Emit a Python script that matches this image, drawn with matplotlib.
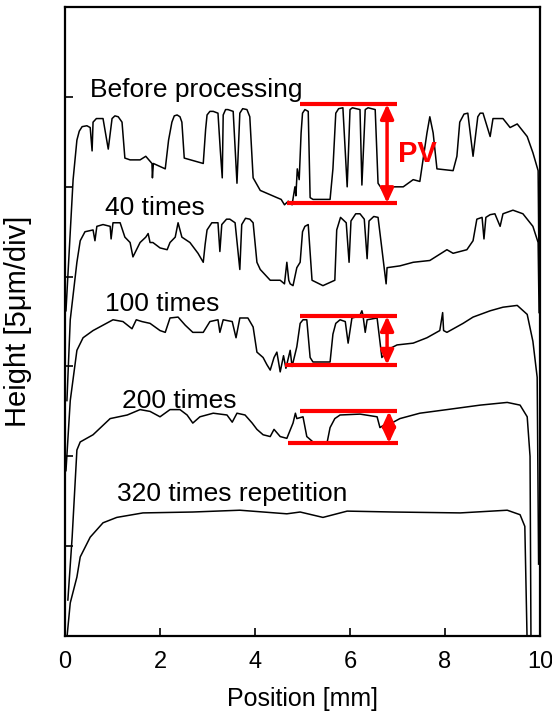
import matplotlib
matplotlib.use("Agg")
import matplotlib.pyplot as plt

plt.rcParams['font.family'] = ['Liberation Sans', 'DejaVu Sans']

# surface profiles, position [mm] / height [um] (offset per curve)
before_x = [0.02, 0.17, 0.25, 0.30, 0.36, 0.46, 0.53, 0.57, 0.59, 0.66, 0.80, 0.91, 0.99, 1.05, 1.12, 1.20, 1.26, 1.37, 1.58, 1.70, 1.83,
            1.84, 1.86, 2.11, 2.18, 2.25, 2.30, 2.36, 2.42, 2.46, 2.51, 2.91, 2.96, 2.99, 3.05, 3.12, 3.22, 3.27, 3.31, 3.33, 3.38,
            3.43, 3.54, 3.62, 3.68, 3.74, 3.83, 3.89, 3.96, 4.11, 4.46, 4.55, 4.62, 4.70, 4.78, 4.84, 4.86, 4.89, 4.93, 4.97, 5.00,
            5.05, 5.12, 5.16, 5.22, 5.58, 5.64, 5.70, 5.76, 5.85, 5.94, 6.00, 6.05, 6.21, 6.25, 6.32, 6.38, 6.53, 6.59, 6.69, 6.91,
            7.12, 7.33, 7.47, 7.62, 7.68, 7.75, 7.83, 8.17, 8.25, 8.31, 8.40, 8.48, 8.59, 8.69, 8.74, 8.80, 8.95, 9.01, 9.22, 9.37,
            9.52, 9.73, 9.85, 9.96, 9.98]
before_y = [18.1, 25.4, 27.6, 28.1, 28.35, 28.4, 28.3, 27.0, 28.6, 28.8, 28.8, 27.1, 28.8, 28.95, 28.9, 28.6, 26.6, 26.5, 26.5, 26.7, 26.3,
            25.5, 26.3, 26.0, 27.6, 28.6, 28.95, 29.0, 28.9, 28.6, 26.6, 26.3, 28.2, 29.0, 29.2, 29.2, 29.1, 27.0, 25.5, 29.0, 29.3,
            29.3, 29.2, 25.2, 29.1, 29.35, 29.3, 28.9, 25.5, 24.8, 24.4, 24.3, 24.0, 24.2, 24.0, 25.0, 24.5, 26.0, 25.4, 28.0, 29.1,
            29.3, 29.2, 24.4, 24.3, 24.3, 26.0, 29.1, 29.35, 29.4, 25.0, 29.3, 29.4, 29.3, 25.1, 29.3, 29.4, 29.3, 25.2, 24.8, 25.0,
            25.0, 25.4, 25.3, 28.0, 28.9, 28.0, 26.0, 25.9, 26.7, 28.6, 29.05, 29.1, 26.7, 28.9, 29.1, 29.1, 27.8, 28.8, 28.8, 28.3,
            28.5, 27.8, 26.9, 25.9, 20.0]

t40_x = [0.04, 0.11, 0.25, 0.32, 0.42, 0.59, 0.63, 0.67, 0.80, 0.95, 0.97, 1.01, 1.16, 1.26, 1.37, 1.43, 1.58, 1.70, 1.75, 1.79, 1.85,
         2.00, 2.15, 2.21, 2.32, 2.38, 2.46, 2.63, 2.80, 2.91, 2.95, 2.99, 3.09, 3.22, 3.26, 3.30, 3.40, 3.47, 3.58, 3.68, 3.72,
         3.80, 3.89, 3.96, 4.04, 4.11, 4.32, 4.53, 4.62, 4.67, 4.71, 4.74, 4.80, 4.88, 4.95, 5.00, 5.05, 5.12, 5.20, 5.43, 5.68,
         5.72, 5.80, 5.92, 5.98, 6.02, 6.12, 6.21, 6.30, 6.36, 6.40, 6.50, 6.59, 6.65, 6.76, 6.78, 7.05, 7.33, 7.68, 8.04, 8.17,
         8.46, 8.59, 8.67, 8.78, 8.82, 8.86, 8.95, 9.05, 9.16, 9.22, 9.43, 9.64, 9.85, 9.96, 9.98]
t40_y = [13.1, 17.6, 20.8, 22.0, 22.5, 22.6, 22.0, 22.8, 22.9, 22.8, 22.1, 23.0, 23.0, 22.2, 21.9, 21.1, 21.9, 22.2, 22.4, 21.9, 21.9,
         21.6, 21.5, 21.9, 22.2, 23.0, 22.2, 21.9, 21.3, 20.8, 21.8, 22.6, 23.0, 23.0, 21.4, 22.9, 23.2, 23.2, 23.0, 20.4, 22.9,
         23.25, 23.2, 23.0, 20.8, 20.4, 19.8, 19.8, 19.6, 20.8, 19.8, 19.6, 19.5, 20.5, 20.8, 22.5, 22.8, 22.9, 19.8, 19.5, 19.8,
         22.6, 23.3, 23.0, 20.8, 23.1, 23.5, 23.5, 23.2, 21.0, 23.1, 23.35, 23.3, 22.0, 19.6, 20.5, 20.6, 20.8, 20.9, 21.5, 21.3,
         21.5, 22.0, 23.2, 23.3, 22.1, 23.3, 23.45, 23.5, 22.8, 23.5, 23.7, 23.5, 22.8, 21.9, 18.0]

t100_x = [0.02, 0.11, 0.25, 0.38, 0.59, 1.01, 1.22, 1.41, 1.50, 1.62, 1.79, 2.00, 2.11, 2.21, 2.38, 2.53, 2.69, 2.91, 3.05, 3.22, 3.26,
          3.33, 3.52, 3.60, 3.68, 3.85, 3.96, 4.04, 4.17, 4.25, 4.32, 4.40, 4.46, 4.53, 4.60, 4.65, 4.74, 4.78, 4.88, 4.95, 5.01,
          5.09, 5.16, 5.22, 5.58, 5.64, 5.70, 5.79, 5.90, 5.96, 6.04, 6.20, 6.25, 6.27, 6.32, 6.36, 6.57, 6.67, 6.84, 6.99, 7.33,
          7.62, 7.89, 7.95, 7.97, 8.04, 8.38, 8.59, 8.95, 9.22, 9.52, 9.73, 9.85, 9.94, 9.97]
t100_y = [9.2, 13.1, 15.9, 16.6, 17.0, 17.6, 17.5, 17.1, 17.6, 17.5, 17.4, 17.0, 16.9, 17.7, 17.75, 17.3, 16.9, 16.9, 17.5, 17.6, 16.9,
          17.6, 17.5, 16.6, 17.7, 17.7, 17.2, 15.8, 15.5, 15.1, 14.8, 15.5, 15.8, 14.7, 15.6, 14.9, 15.9, 15.0, 16.1, 17.4, 17.6,
          17.6, 15.5, 15.25, 15.25, 16.8, 17.4, 17.6, 17.5, 16.3, 17.7, 17.8, 18.1, 17.9, 16.9, 17.6, 17.7, 15.5, 16.0, 16.2, 16.3,
          16.6, 17.0, 18.0, 17.0, 16.9, 17.4, 17.75, 18.1, 18.3, 18.4, 17.9, 16.4, 14.4, 4.0]

t200_x = [0.06, 0.15, 0.25, 0.32, 0.59, 0.95, 1.31, 1.58, 1.79, 2.00, 2.21, 2.42, 2.57, 2.69, 2.84, 3.12, 3.41, 3.52, 3.62, 3.79, 3.94,
          4.04, 4.17, 4.32, 4.40, 4.53, 4.67, 4.80, 4.85, 4.88, 5.01, 5.09, 5.22, 5.52, 5.58, 5.68, 5.79, 6.21, 6.57, 6.63, 6.78,
          6.91, 7.05, 7.47, 8.04, 8.74, 9.31, 9.58, 9.73, 9.79, 9.81]
t200_y = [2.0, 5.5, 10.35, 10.8, 11.2, 12.1, 12.3, 12.6, 12.5, 12.2, 12.6, 12.6, 12.3, 11.85, 12.2, 12.4, 12.3, 11.9, 12.4, 12.3, 11.85,
          11.5, 11.2, 11.1, 11.5, 11.1, 11.0, 11.85, 12.4, 12.1, 12.2, 11.1, 10.8, 10.8, 11.6, 12.1, 12.3, 12.35, 12.2, 11.6, 11.85,
          11.9, 12.1, 12.4, 12.6, 12.85, 13.0, 12.85, 12.2, 10.0, -0.5]

t320_x = [0.04, 0.11, 0.25, 0.32, 0.53, 0.80, 1.09, 1.64, 2.69, 3.68, 4.67, 4.95, 5.43, 5.94, 6.91, 8.32, 9.31, 9.58, 9.68, 9.73]
t320_y = [-0.1, 1.84, 3.28, 4.4, 5.5, 6.3, 6.6, 6.85, 6.9, 7.0, 6.8, 6.9, 6.6, 6.95, 6.9, 6.85, 7.0, 6.75, 6.1, -0.5]

labels = ["Before processing", "40 times", "100 times", "200 times", "320 times repetition"]
label_x = [0.53, 0.84, 0.84, 1.2, 1.09]
label_y = [30.4, 23.8, 18.5, 13.1, 7.9]

# PV brackets: top level, bottom level, arrow position
pv_top = [29.6, 17.8, 12.5]
pv_bot = [24.1, 15.1, 10.74]
pv_top_x = [(4.95, 6.99), (4.95, 6.99), (4.95, 6.99)]
pv_bot_x = [(4.67, 6.99), (4.63, 6.99), (4.69, 7.01)]
pv_arrow_x = [6.78, 6.78, 6.82]

fig = plt.figure(figsize=(5.52, 7.17), dpi=100)
ax = fig.add_axes([0.1178, 0.113, 0.8605, 0.877])

for xs, ys in [(before_x, before_y), (t40_x, t40_y), (t100_x, t100_y), (t200_x, t200_y), (t320_x, t320_y)]:
    ax.plot(xs, ys, color='black', lw=1.1)

for s, lx, ly in zip(labels, label_x, label_y):
    ax.text(lx, ly, s, fontsize=19, ha='left', va='center')

for top, bot, tx, bx, axx in zip(pv_top, pv_bot, pv_top_x, pv_bot_x, pv_arrow_x):
    ax.plot(tx, [top, top], color='red', lw=3, solid_capstyle='butt')
    ax.plot(bx, [bot, bot], color='red', lw=3, solid_capstyle='butt')
    ax.annotate('', xy=(axx, top), xytext=(axx, bot),
                arrowprops=dict(arrowstyle='<|-|>,head_length=0.48,head_width=0.22', color='red',
                                lw=2.5, mutation_scale=18, shrinkA=0, shrinkB=0))

ax.text(7.0, 26.8, "PV", color='red', fontsize=21, fontweight='bold', ha='left', va='center')

ax.set_xlim(0, 10)
ax.set_ylim(0, 35)
ax.set_xticks([0, 2, 4, 6, 8, 10])
ax.set_yticks([5, 10, 15, 20, 25, 30])
ax.set_yticklabels([])
ax.tick_params(axis='both', direction='in', length=6, width=1.2, labelsize=17)
ax.tick_params(axis='x', pad=11)
for sp in ax.spines.values():
    sp.set_linewidth(1.6)

ax.set_xlabel("Position [mm]", fontsize=18, labelpad=10)
ax.set_ylabel("Height [5μm/div]", fontsize=21, labelpad=20)

fig.savefig("out.png", dpi=100)
